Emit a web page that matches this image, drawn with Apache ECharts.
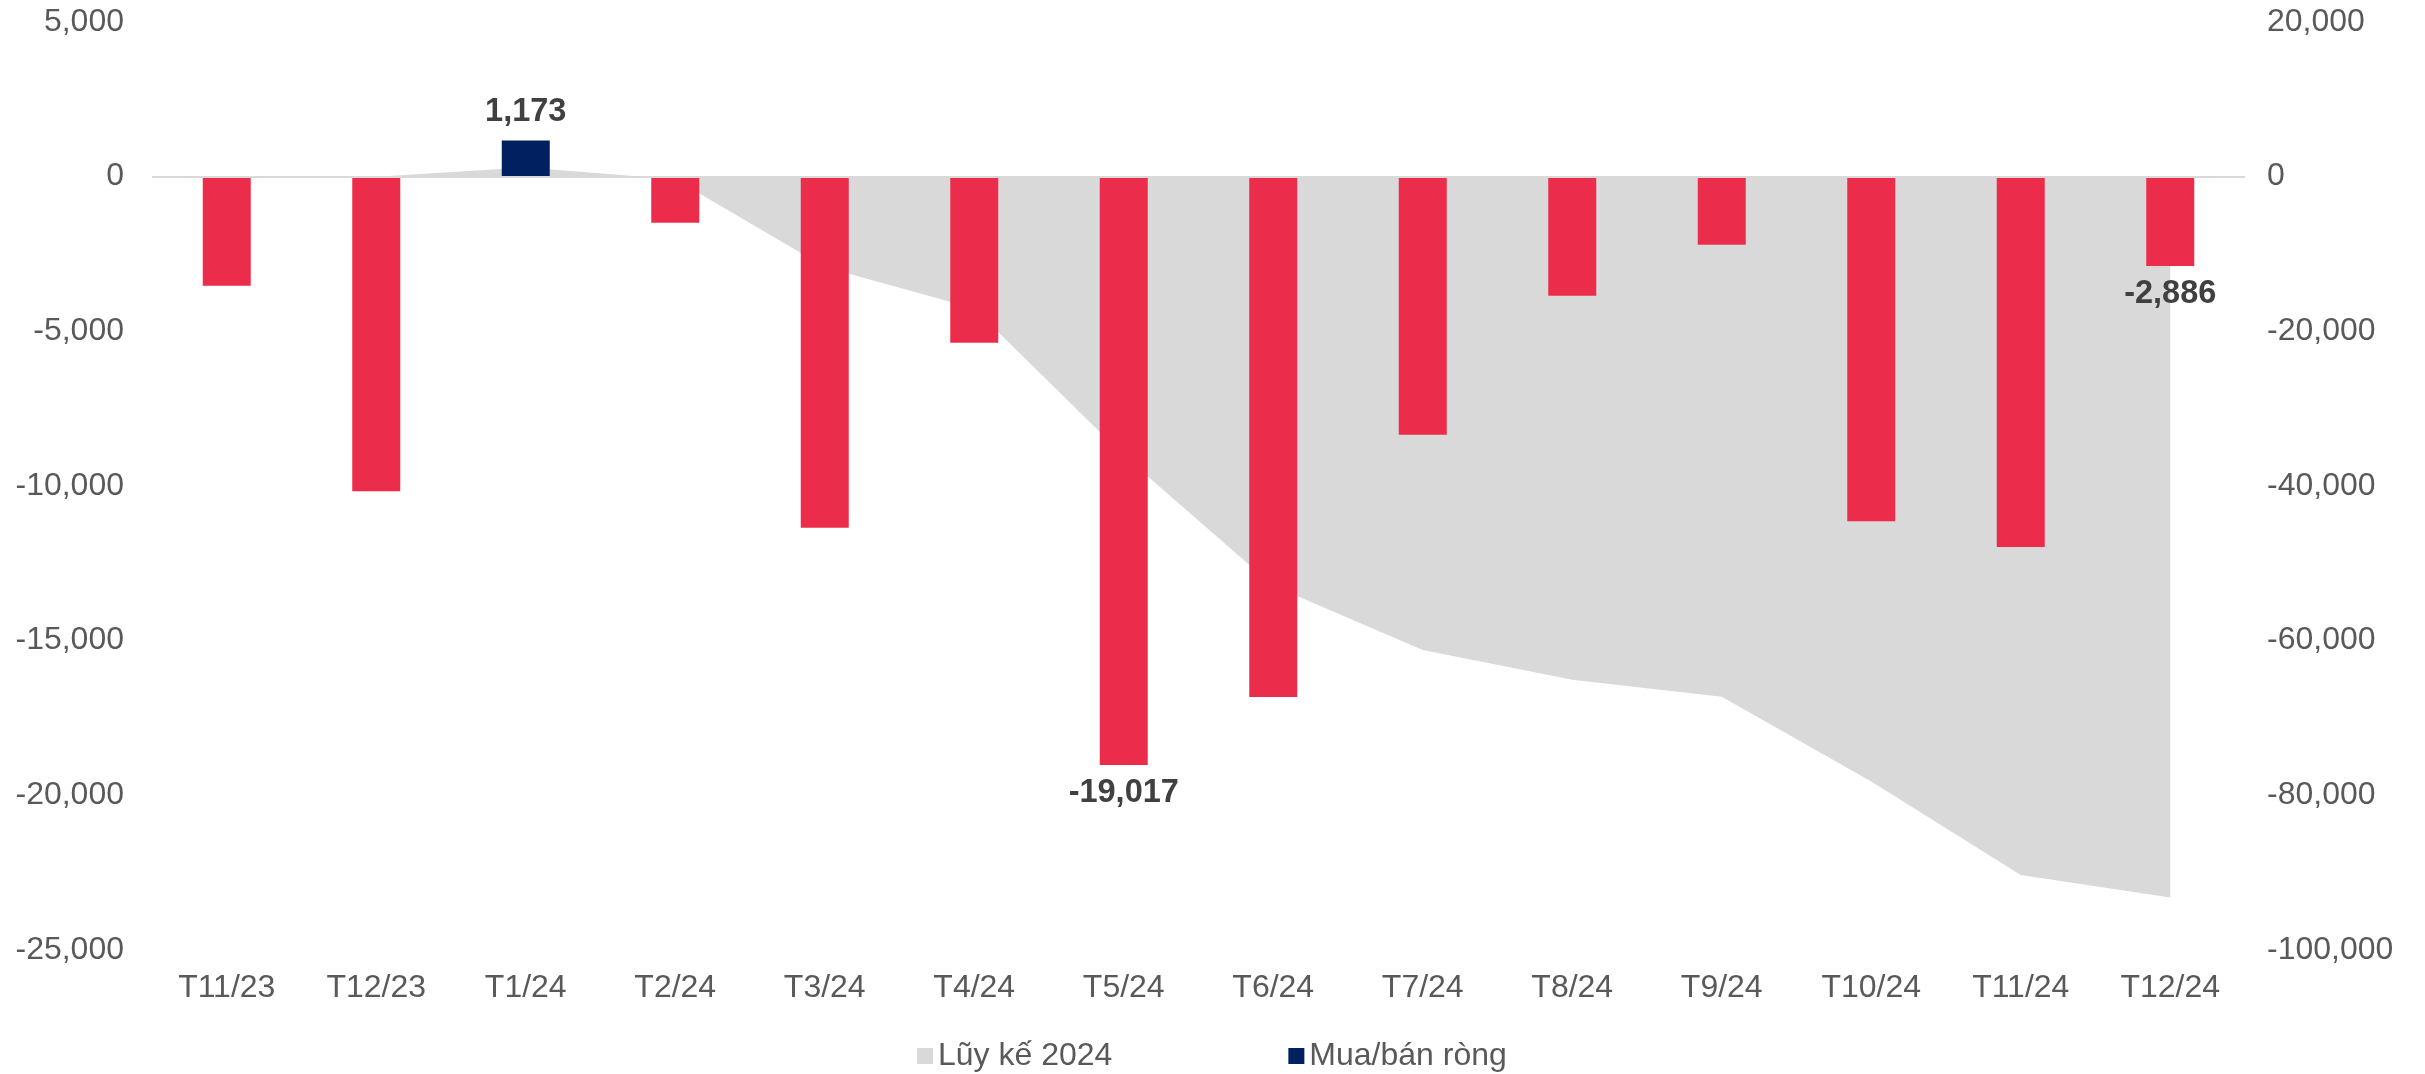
<!DOCTYPE html>
<html>
<head>
<meta charset="utf-8">
<style>
html,body{margin:0;padding:0;background:#fff;}
#chart{width:2425px;height:1074px;}
</style>
<script src="https://cdn.jsdelivr.net/npm/echarts@6/dist/echarts.min.js"></script>
</head>
<body>
<div id="chart"></div>
<script>
const categories = ['T11/23','T12/23','T1/24','T2/24','T3/24','T4/24','T5/24','T6/24','T7/24','T8/24','T9/24','T10/24','T11/24','T12/24'];
const netFlow = [-3530, -10170, 1173, -1490, -11350, -5370, -19017, -16820, -8340, -3850, -2200, -11140, -11970, -2886];
const cumulative2024 = [null, 0, 1170, -320, -11670, -17040, -36050, -52900, -61200, -65050, -67250, -78200, -90300, -93200];
const labeledIdx = [2, 6, 13];
const leftTicks = {min: -25000, max: 5000, interval: 5000};
const rightTicks = {min: -100000, max: 20000, interval: 20000};
const seriesNames = ['Lũy kế 2024', 'Mua/bán ròng'];

const FONT = '"Liberation Sans", Arial, sans-serif';
const FS = 32;
const RED = '#EB2D4B', NAVY = '#002060', GREY = '#D9D9D9';
const fmt = v => Number(v).toLocaleString('en-US');

const barData = netFlow.map((v, i) => ({
  value: v,
  itemStyle: {color: v < 0 ? RED : NAVY},
  label: {
    show: labeledIdx.includes(i),
    position: v < 0 ? 'bottom' : 'top',
    distance: 12,
    formatter: p => fmt(p.value),
    fontFamily: FONT, fontSize: 32.5, fontWeight: 'bold', color: '#404040'
  }
}));

const chart = echarts.init(document.getElementById('chart'), null, {renderer: 'canvas'});
chart.setOption({
  animation: false,
  backgroundColor: '#fff',
  textStyle: {fontFamily: FONT},
  grid: {left: 152, right: 180, top: 22, bottom: 124, containLabel: false},
  legend: {
    left: 917, top: 1040, padding: 0,
    itemWidth: 16, itemHeight: 16, itemGap: 176,
    textStyle: {fontFamily: FONT, fontSize: FS, color: '#595959'},
    data: [
      {name: seriesNames[0], icon: 'rect', itemStyle: {color: GREY}},
      {name: seriesNames[1], icon: 'rect', itemStyle: {color: NAVY}}
    ]
  },
  xAxis: {
    type: 'category', data: categories, boundaryGap: true,
    axisLine: {show: false, onZero: false}, axisTick: {show: false},
    axisLabel: {fontFamily: FONT, fontSize: FS, color: '#595959', margin: 22}
  },
  yAxis: [
    {
      type: 'value', position: 'left',
      min: leftTicks.min, max: leftTicks.max, interval: leftTicks.interval,
      axisLine: {show: false}, axisTick: {show: false}, splitLine: {show: false},
      axisLabel: {fontFamily: FONT, fontSize: FS, color: '#595959', margin: 28, formatter: fmt}
    },
    {
      type: 'value', position: 'right',
      min: rightTicks.min, max: rightTicks.max, interval: rightTicks.interval,
      axisLine: {show: false}, axisTick: {show: false}, splitLine: {show: false},
      axisLabel: {fontFamily: FONT, fontSize: FS, color: '#595959', margin: 22, formatter: fmt}
    }
  ],
  series: [
    {
      name: seriesNames[0], type: 'line', yAxisIndex: 1, data: cumulative2024,
      showSymbol: false, symbol: 'none', lineStyle: {width: 0, color: GREY},
      itemStyle: {color: GREY}, areaStyle: {color: GREY, opacity: 1}, z: 1
    },
    {
      name: seriesNames[1], type: 'bar', yAxisIndex: 0, data: barData,
      barWidth: 48, itemStyle: {color: NAVY}, z: 3,
      markLine: {
        silent: true, symbol: 'none', label: {show: false},
        lineStyle: {color: GREY, width: 2, type: 'solid'},
        data: [{yAxis: 0}]
      }
    }
  ]
});
</script>
</body>
</html>
